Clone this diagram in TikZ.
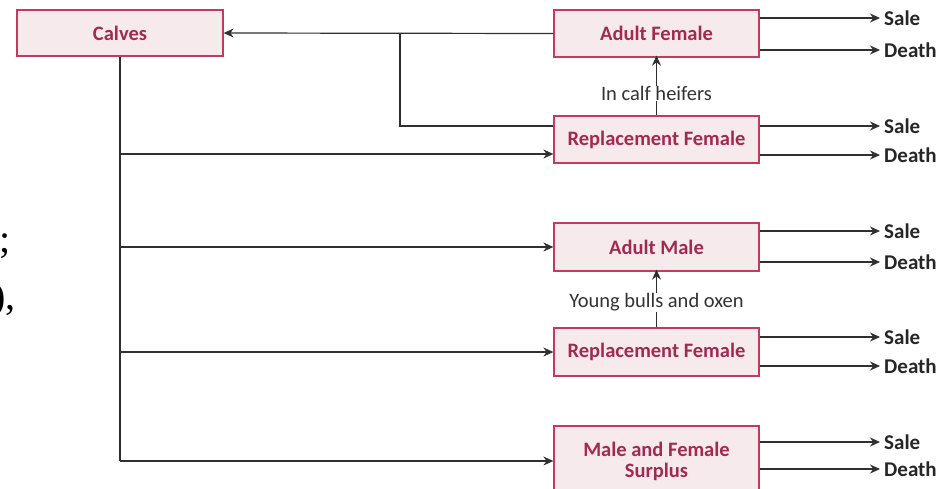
\documentclass[tikz,border=0pt]{standalone}
\usepackage{fontspec}
\setmainfont{Carlito}
\newfontfamily\serifstray{Liberation Serif}
\usetikzlibrary{arrows.meta}
\definecolor{boxfill}{HTML}{F6EAEC}
\definecolor{boxline}{HTML}{C23A5C}
\definecolor{boxtext}{HTML}{A32A4E}
\definecolor{linecol}{HTML}{303030}
\tikzset{
  box/.style={draw=boxline, line width=1.3pt, fill=boxfill, text=boxtext,
    font=\fontsize{20.5}{22}\selectfont\bfseries, minimum width=205pt, minimum height=47pt,
    inner sep=0pt, align=center},
  arr/.style={draw=linecol, line width=1.2pt, -{Stealth[length=10pt,width=9pt]}},
  ln/.style={draw=linecol, line width=1.2pt},
  outlab/.style={anchor=west, inner sep=0pt, text=black!85, font=\fontsize{21}{22}\selectfont\bfseries},
  midlab/.style={fill=white, inner sep=1pt, text=black!80, font=\fontsize{20.5}{22}\selectfont}
}
\begin{document}
\begin{tikzpicture}[x=1pt,y=-1pt]
\useasboundingbox (0,0) rectangle (945,488);
% stray fragments
\node[anchor=west, inner sep=0pt, font=\serifstray\fontsize{40}{42}\selectfont] (st1) at (-1,246) {;};
\node[anchor=west, inner sep=0pt, font=\serifstray\fontsize{40}{42}\selectfont] (st2) at (-8,300) {),};
% boxes
\node[box, minimum width=206pt, minimum height=46pt] (calves) at (120,33) {Calves};
\node[box] (af) at (656.5,33.5) {Adult Female};
\node[box] (rf1) at (656.5,139.5) {Replacement Female};
\node[box, minimum height=48pt] (am) at (656.5,247) {Adult Male};
\node[box, minimum height=48pt] (rf2) at (656.5,352) {Replacement Female};
\node[box, minimum height=70pt] (mfs) at (656.5,461) {Male and Female\\[-1pt]Surplus};
% outputs
\node[outlab] (s1) at (884,18) {Sale};
\node[outlab] (d1) at (884,50) {Death};
\node[outlab] (s2) at (884,126) {Sale};
\node[outlab] (d2) at (884,155) {Death};
\node[outlab] (s3) at (884,231) {Sale};
\node[outlab] (d3) at (884,262) {Death};
\node[outlab] (s4) at (884,337) {Sale};
\node[outlab] (d4) at (884,366) {Death};
\node[outlab] (s5) at (884,442) {Sale};
\node[outlab] (d5) at (884,469) {Death};
\foreach \b/\s/\d in {af/s1/d1, rf1/s2/d2, am/s3/d3, rf2/s4/d4, mfs/s5/d5}{
  \draw[arr] (\b.east |- \s.west) -- ([xshift=-4pt]\s.west);
  \draw[arr] (\b.east |- \d.west) -- ([xshift=-4pt]\d.west);
}
% calves trunk
\coordinate (tb) at (120,461);
\draw[ln] (calves.south) -- (tb);
\coordinate (t1) at (120,154);
\coordinate (t2) at (120,247);
\coordinate (t3) at (120,352);
\draw[arr] (t1) -- (t1 -| rf1.west);
\draw[arr] (t2) -- (am.west);
\draw[arr] (t3) -- (rf2.west);
\draw[arr] (tb) -- (tb -| mfs.west);
% return to calves
\draw[arr] (af.west) -- (calves.east);
\coordinate (j1) at (400,126);
\draw[ln] (j1 -| rf1.west) -- (j1) -- (j1 |- calves.east);
% upward transitions
\node[midlab] (l1) at (656.5,93) {In calf heifers};
\draw[ln] (rf1.north) -- (l1.south);
\draw[arr] ([yshift=-1pt]l1.north) -- ([yshift=2pt]af.south);
\node[midlab] (l2) at (656.5,302) {Young bulls and oxen};
\draw[ln] (rf2.north) -- (l2.south);
\draw[arr] ([yshift=-1pt]l2.north) -- ([yshift=2pt]am.south);
\end{tikzpicture}
\end{document}
